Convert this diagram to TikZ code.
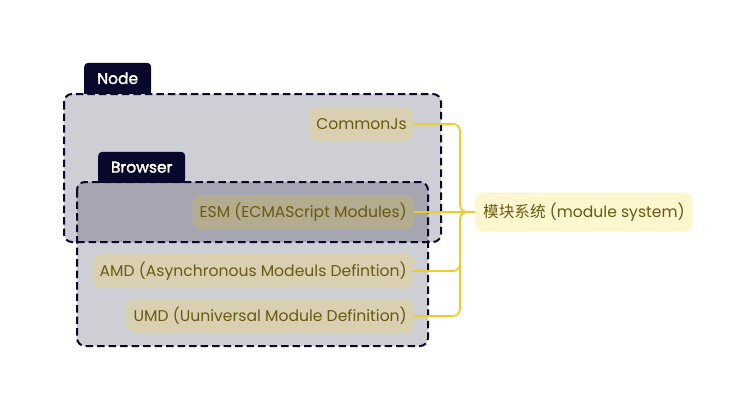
\documentclass[tikz,border=0pt]{standalone}
\usepackage{fontspec}
\setmainfont{Poppins}
\newfontfamily\cjk{Noto Sans CJK SC}
\newfontfamily\tabfont{Poppins}[FakeBold=1.2]
\definecolor{navy}{RGB}{8,8,44}
\definecolor{leaffill}{RGB}{216,208,176}
\definecolor{leafdark}{RGB}{180,172,142}
\definecolor{rootfill}{RGB}{253,246,207}
\definecolor{olive}{RGB}{104,90,18}
\definecolor{conncol}{RGB}{240,204,42}
\tikzset{
  grp/.style={draw=navy, line width=2pt, dash pattern=on 7.5pt off 4pt, rounded corners=8pt},
  grpfill/.style={fill=navy, fill opacity=0.2, rounded corners=8pt},
  tab/.style={fill=navy, text=white, rounded corners=4pt, minimum height=31pt, inner xsep=0pt, font=\tabfont\fontsize{15.5}{18}\selectfont},
  tabtext/.style={text=white, font=\tabfont\fontsize{15.5}{18}\selectfont},
  leaf/.style={fill=leaffill, text=olive, rounded corners=8pt, minimum height=34pt, inner xsep=7pt, inner ysep=0pt, font=\fontsize{15.6}{18}\selectfont, anchor=east},
  rootnode/.style={fill=rootfill, text=olive, rounded corners=8pt, minimum height=39pt, inner xsep=8pt, font=\fontsize{15.6}{18}\selectfont, anchor=west},
  conn/.style={draw=conncol, line width=1.8pt, rounded corners=7pt},
}
\begin{document}
\begin{tikzpicture}[x=1pt,y=-1pt]
\useasboundingbox (0,0) rectangle (755,410);
% group fills
\fill[grpfill] (64,94) rectangle (441,242);
\fill[grpfill] (77,182) rectangle (428,346);
% tabs
\node[tab, minimum width=67pt, anchor=south west] (nodetab) at (84,94) {Node};
\fill[navy] (nodetab.west) rectangle (nodetab.south east);
\node[tabtext] at (nodetab.center) {Node};
\node[tab, minimum width=87pt, anchor=south west] (browsertab) at (98,183) {Browser};
\fill[navy] (browsertab.west) rectangle (browsertab.south east);
\node[tabtext] at (browsertab.center) {Browser};
% group borders
\draw[grp] (64,94) rectangle (441,242);
\draw[grp] (77,182) rectangle (428,346);
% leaves
\node[leaf] (cjs) at (414,124) {CommonJs};
\node[leaf, fill=leafdark] (esm) at (414,212) {ESM (ECMAScript Modules)};
\node[leaf] (amd) at (414,271) {AMD (Asynchronous Modeuls Defintion)};
\node[leaf] (umd) at (414,316) {UMD (Uuniversal Module Definition)};
% root
\node[rootnode] (root) at (475,212) {{\cjk 模块系统} (module system)};
% connectors
\draw[conn] (root.west) -- ++(-15,0) |- (cjs.east);
\draw[conn] (root.west) -- (esm.east);
\draw[conn] (root.west) -- ++(-15,0) |- (amd.east);
\draw[conn] (root.west) -- ++(-15,0) |- (umd.east);
\end{tikzpicture}
\end{document}
